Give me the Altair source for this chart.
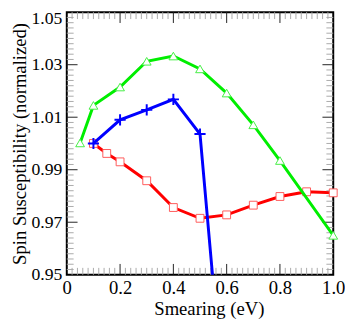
import altair as alt
import pandas as pd

# Data
green_x = [0.05, 0.1, 0.2, 0.3, 0.4, 0.5, 0.6, 0.7, 0.8, 1.0]
green_y = [1.0002, 1.0145, 1.0215, 1.0313, 1.0333, 1.0284, 1.0192, 1.0071, 0.9935, 0.9650]

blue_x = [0.1, 0.2, 0.3, 0.4, 0.5, 0.6]
blue_y = [1.0000, 1.0090, 1.0128, 1.0168, 1.0036, 0.8890]
blue_marker_x = [0.1, 0.2, 0.3, 0.4, 0.5]
blue_marker_y = [1.0000, 1.0090, 1.0128, 1.0168, 1.0036]

red_x = [0.1, 0.15, 0.2, 0.3, 0.4, 0.5, 0.6, 0.7, 0.8, 0.9, 1.0]
red_y = [1.0000, 0.9962, 0.9930, 0.9858, 0.9756, 0.9715, 0.9728, 0.9765, 0.9798, 0.9816, 0.9812]

x_major = [0.0, 0.2, 0.4, 0.6, 0.8, 1.0]
x_minor = [round(i * 0.02, 2) for i in range(51) if i % 10 != 0]
y_major = [0.95, 0.97, 0.99, 1.01, 1.03, 1.05]
y_minor = [round(0.95 + i * 0.002, 3) for i in range(51) if i % 10 != 0]

W, H = 272, 268
FONT = "Liberation Serif"

xs = alt.Scale(domain=[0, 1], nice=False, zero=False)
ys = alt.Scale(domain=[0.95, 1.05], nice=False, zero=False)

xaxis = alt.Axis(values=x_major, title="Smearing (eV)", labelFlush=False,
                 labelFont=FONT, labelFontSize=19, titleFont=FONT, titleFontSize=19,
                 titleFontWeight="normal", labelPadding=4, titlePadding=3, titleX=145,
                 labelExpr="datum.value == 0 ? '0' : format(datum.value, '.1f')")
yaxis = alt.Axis(values=y_major, title="Spin Susceptibility (normalized)", labelFlush=False,
                 labelFont=FONT, labelFontSize=18, titleFont=FONT, titleFontSize=19,
                 titleFontWeight="normal", format=".2f", labelPadding=5, titlePadding=2,
                 labelOffset={"condition": {"test": "datum.value > 1.049", "value": 7}, "value": 0})

gdf = pd.DataFrame({"x": green_x, "y": green_y})
bdf = pd.DataFrame({"x": blue_x, "y": blue_y})
bmdf = pd.DataFrame({"x": blue_marker_x, "y": blue_marker_y})
rdf = pd.DataFrame({"x": red_x, "y": red_y})

def enc(ch):
    return ch.encode(x=alt.X("x:Q", scale=xs, axis=xaxis),
                     y=alt.Y("y:Q", scale=ys, axis=yaxis))

red_line = enc(alt.Chart(rdf).mark_line(color="#ff0000", strokeWidth=3, clip=True))
red_pts = enc(alt.Chart(rdf).mark_point(shape="square", size=64, filled=True, fill="white",
                                        stroke="#ff5a5a", strokeWidth=1, opacity=1))
green_line = enc(alt.Chart(gdf).mark_line(color="#00ee00", strokeWidth=3, clip=True))
green_pts = enc(alt.Chart(gdf).mark_point(shape="triangle-up", size=80, filled=True, fill="white",
                                          stroke="#44ee44", strokeWidth=1, opacity=1))
blue_line = enc(alt.Chart(bdf).mark_line(color="#0000ff", strokeWidth=3, clip=True))
blue_pts = enc(alt.Chart(bmdf).mark_point(shape="M-1,0H1M0,-1V1", size=130, filled=False,
                                          color="#0000ff", strokeWidth=2, opacity=1))

# ticks (inward, on all four sides)
xmin_df = pd.DataFrame({"t": x_minor})
xmaj_df = pd.DataFrame({"t": x_major[1:-1]})
ymin_df = pd.DataFrame({"t": y_minor})
ymaj_df = pd.DataFrame({"t": y_major[1:-1]})

def xticks(df, L, color):
    b = alt.Chart(df).mark_rule(color=color, strokeWidth=1).encode(
        x=alt.X("t:Q", scale=xs, axis=xaxis), y=alt.value(H), y2=alt.value(H - L))
    t = alt.Chart(df).mark_rule(color=color, strokeWidth=1).encode(
        x=alt.X("t:Q", scale=xs, axis=xaxis), y=alt.value(0), y2=alt.value(L))
    return [b, t]

def yticks(df, L, color):
    l = alt.Chart(df).mark_rule(color=color, strokeWidth=1).encode(
        y=alt.Y("t:Q", scale=ys, axis=yaxis), x=alt.value(0), x2=alt.value(L))
    r = alt.Chart(df).mark_rule(color=color, strokeWidth=1).encode(
        y=alt.Y("t:Q", scale=ys, axis=yaxis), x=alt.value(W), x2=alt.value(W - L))
    return [l, r]

tick_layers = (xticks(xmin_df, 7, "#aaaaaa") + yticks(ymin_df, 7, "#aaaaaa")
               + xticks(xmaj_df, 11, "#222222") + yticks(ymaj_df, 11, "#222222"))

chart = alt.layer(
    red_line, *tick_layers, red_pts, green_line, green_pts, blue_line, blue_pts
).properties(
    width=W, height=H,
    autosize=alt.AutoSizeParams(type="none"),
    padding={"left": 60, "top": 1, "right": 12, "bottom": 47},
).configure_view(
    stroke="black", strokeWidth=2
).configure_axis(
    ticks=False, domain=False, grid=False, labelFlush=False,
    labelColor="black", titleColor="black",
)

chart.save("out.html", embed_options={"renderer": "svg", "actions": False})
